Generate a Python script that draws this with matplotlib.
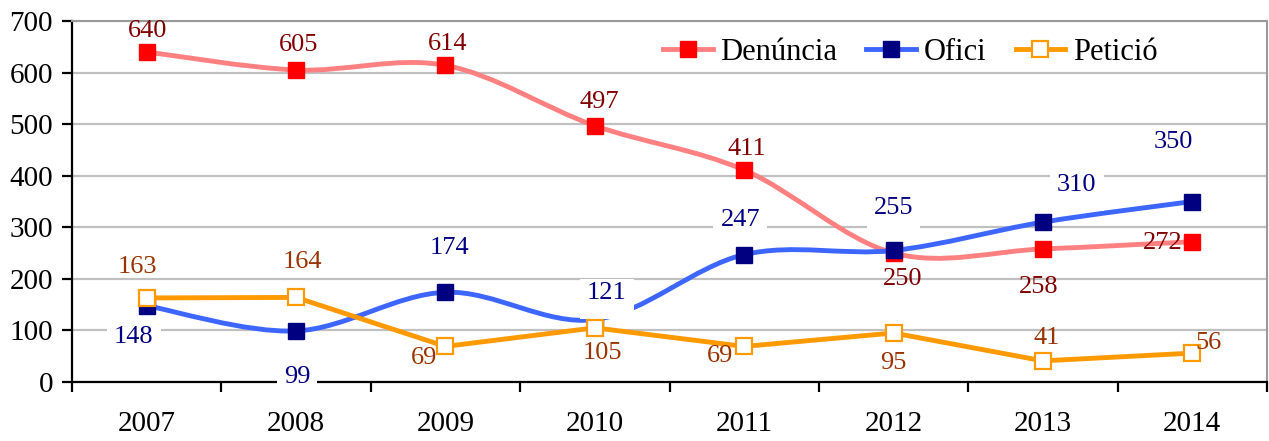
import matplotlib
matplotlib.use("Agg")
import matplotlib.pyplot as plt
from matplotlib.path import Path
from matplotlib.patches import PathPatch
from matplotlib.lines import Line2D
import numpy as np

# ---------------- data ----------------
years = ["2007", "2008", "2009", "2010", "2011", "2012", "2013", "2014"]
denuncia = [640, 605, 614, 497, 411, 250, 258, 272]
ofici = [148, 99, 174, 121, 247, 255, 310, 350]
peticio = [163, 164, 69, 105, 69, 95, 41, 56]
series_names = ["Denúncia", "Ofici", "Petició"]
y_ticks = [0, 100, 200, 300, 400, 500, 600, 700]

# label offsets in pixels (dx, dy) relative to each point (styling only)
den_offsets = [(1, 21), (2, 25), (2, 21), (5, 24), (3, 21), (9, -26), (-4, -38), (-30, -1)]
ofi_offsets = [(-13, -31), (1, -46), (4, 44), (12, 27), (-4, 35), (0, 42), (34, 37), (-19, 60)]
pet_offsets = [(-9, 31), (6, 35), (-21, -12), (8, -25), (-24, -10), (0, -30), (4, 23), (16, 10)]

plt.rcParams['font.family'] = ['Liberation Serif', 'DejaVu Serif']

W, H = 1269, 441
fig = plt.figure(figsize=(W / 100, H / 100), dpi=100)
ax = fig.add_axes([72 / W, 59 / H, 1195 / W, 361 / H])
x = np.arange(len(years))


def smooth_path(xs, ys):
    pts = np.column_stack([xs, ys]).astype(float)
    n = len(pts)
    verts = [pts[0]]
    codes = [Path.MOVETO]
    for i in range(n - 1):
        p0 = pts[i - 1] if i > 0 else pts[i]
        p1 = pts[i]
        p2 = pts[i + 1]
        p3 = pts[i + 2] if i + 2 < n else pts[i + 1]
        c1 = p1 + (p2 - p0) / 6.0
        c2 = p2 - (p3 - p1) / 6.0
        verts += [c1, c2, p2]
        codes += [Path.CURVE4] * 3
    return Path(verts, codes)


LW = 3.5
MS = 12

# Denúncia (smoothed)
ax.add_patch(PathPatch(smooth_path(x, denuncia), fill=False, edgecolor='#FF8080',
                       lw=LW, zorder=3, capstyle='round', joinstyle='round'))
ax.plot(x, denuncia, ls='none', marker='s', ms=MS, mfc='#FF0000', mec='#FF0000', zorder=3.2)

# Ofici (smoothed)
ax.add_patch(PathPatch(smooth_path(x, ofici), fill=False, edgecolor='#3D66FF',
                       lw=LW, zorder=4, capstyle='round', joinstyle='round'))
ax.plot(x, ofici, ls='none', marker='s', ms=MS, mfc='#000080', mec='#000080', zorder=4.2)

# Petició (straight)
ax.plot(x, peticio, color='#FF9900', lw=LW, marker='s', ms=MS - 1, mfc='white',
        mec='#FF9900', mew=1.6, zorder=6, solid_joinstyle='round')


# custom white box for Ofici labels
def label_box(x0, y0, width, height, mutation_size):
    padx, pt, pb = 7, 3, 15
    l, r = x0 - padx, x0 + width + padx
    b, t = y0 - pb, y0 + height + pt
    return Path([(l, b), (r, b), (r, t), (l, t), (l, b)],
                [Path.MOVETO, Path.LINETO, Path.LINETO, Path.LINETO, Path.CLOSEPOLY])


LFS = 19
for i, v in enumerate(denuncia):
    ax.annotate(str(v), xy=(i, v), xytext=den_offsets[i], textcoords='offset pixels',
                ha='center', va='center', fontsize=LFS, color='#800000', zorder=7)
for i, v in enumerate(ofici):
    ax.annotate(str(v), xy=(i, v), xytext=ofi_offsets[i], textcoords='offset pixels',
                ha='center', va='center', fontsize=LFS, color='#000080', zorder=5,
                bbox=dict(boxstyle=label_box, fc='white', ec='none'))
for i, v in enumerate(peticio):
    ax.annotate(str(v), xy=(i, v), xytext=pet_offsets[i], textcoords='offset pixels',
                ha='center', va='center', fontsize=LFS, color='#993300', zorder=7)

# axes
ax.set_xlim(-0.5, len(years) - 0.5)
ax.set_ylim(0, 700)
ax.set_yticks(y_ticks)
ax.set_yticklabels([str(t) for t in y_ticks])
ax.set_axisbelow(True)
ax.yaxis.grid(True, color='#C0C0C0', lw=1.6)
ax.xaxis.grid(False)

ax.set_xticks(np.arange(-0.5, len(years), 1.0))
ax.set_xticklabels([])
ax.set_xticks(x, minor=True)
ax.set_xticklabels(years, minor=True)
ax.tick_params(axis='x', which='major', direction='out', length=7.5, width=1.6, color='black')
ax.tick_params(axis='x', which='minor', length=0, pad=21, labelsize=21)
ax.tick_params(axis='y', direction='out', length=7.2, width=1.6, pad=6.5, labelsize=21)

for s in ['left', 'bottom']:
    ax.spines[s].set_color('black')
    ax.spines[s].set_linewidth(1.6)
for s in ['top', 'right']:
    ax.spines[s].set_color('#9A9A9A')
    ax.spines[s].set_linewidth(1.5)

# legend
handles = [
    Line2D([], [], color='#FF8080', lw=LW, marker='s', ms=MS, mfc='#FF0000', mec='#FF0000'),
    Line2D([], [], color='#3D66FF', lw=LW, marker='s', ms=MS, mfc='#000080', mec='#000080'),
    Line2D([], [], color='#FF9900', lw=LW, marker='s', ms=MS - 1, mfc='white', mec='#FF9900', mew=1.6),
]
ax.legend(handles, series_names, loc='center left',
          bbox_to_anchor=((663 - 72) / 1195, (382 - 52) / 361), ncol=3,
          frameon=False, fontsize=22, handlelength=1.63, handletextpad=0.25,
          columnspacing=0.95, borderpad=0, borderaxespad=0)

fig.savefig('out.png', dpi=100)
